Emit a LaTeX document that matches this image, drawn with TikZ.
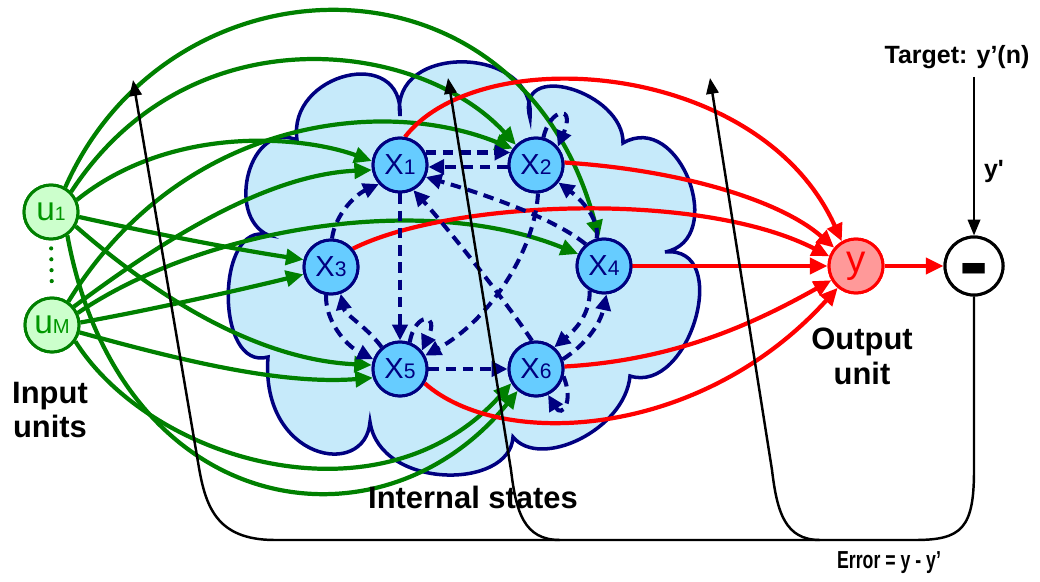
\documentclass[tikz,border=0pt]{standalone}
\usepackage{fontspec}
\setmainfont{Liberation Sans}
\newfontfamily\plainsans{Liberation Sans}[Ligatures=TeXOff]
\usetikzlibrary{arrows.meta}
\definecolor{navy}{RGB}{0,0,128}
\definecolor{lgreen}{RGB}{0,128,0}
\definecolor{utext}{RGB}{0,150,0}
\definecolor{ufill}{RGB}{204,255,204}
\definecolor{xfill}{RGB}{102,204,255}
\definecolor{cloudfill}{RGB}{198,234,250}
\definecolor{yfill}{RGB}{255,153,153}
\begin{document}
\begin{tikzpicture}[x={(0.02cm,0)}, y={(0,-0.02cm)},
  inp/.style={circle, draw=lgreen, fill=ufill, line width=1.7pt, minimum size=1.08cm, inner sep=0pt, text=utext, font=\fontsize{19}{20}\selectfont},
  st/.style={circle, draw=navy, fill=xfill, line width=1.7pt, minimum size=1.08cm, inner sep=0pt, text=navy, font=\fontsize{16.5}{18}\selectfont},
  outu/.style={circle, draw=red, fill=yfill, line width=1.7pt, minimum size=1.08cm, inner sep=0pt, text=red, font=\fontsize{22}{24}\selectfont},
  minusnode/.style={circle, draw=black, fill=white, line width=1.7pt, minimum size=1.1cm, inner sep=0pt, font=\fontsize{50}{52}\selectfont\bfseries, text height=28.5pt, text depth=0pt},
  garrow/.style={draw=lgreen, line width=2.4pt, -{Triangle[length=10pt,width=9pt]}},
  rarrow/.style={draw=red, line width=2.4pt, -{Triangle[length=10pt,width=9pt]}},
  darrow/.style={draw=navy, line width=2.3pt, dash pattern=on 6pt off 3.8pt, -{Triangle[length=9pt,width=8.5pt]}},
  barrow/.style={draw=black, line width=1.4pt, -{Triangle[length=9pt,width=7pt]}},
  lbl/.style={font=\fontsize{17.6}{19.8}\selectfont\bfseries, align=center},
  smalllbl/.style={font=\fontsize{14.2}{16}\selectfont\bfseries},
]
\useasboundingbox (0,0) rectangle (1040,581);

% cloud
\draw[navy, fill=cloudfill, line width=2pt]
  (297,140) .. controls (287,73) and (404,44) .. (400,116)
  .. controls (389,42) and (537,45) .. (530,118)
  .. controls (514,58) and (624,92) .. (623,143)
  .. controls (680,110) and (728,240) .. (665,252)
  .. controls (733,245) and (690,395) .. (630,376)
  .. controls (625,430) and (540,470) .. (513,437)
  .. controls (510,490) and (380,490) .. (370,422)
  .. controls (365,480) and (260,460) .. (268,357)
  .. controls (215,372) and (215,220) .. (268,235)
  .. controls (225,215) and (250,120) .. (297,140) -- cycle;

% nodes
\node[inp] (u1) at (51,212) {u{\fontsize{11}{12}\selectfont 1}};
\node[inp] (uM) at (52,325) {u{\fontsize{11.5}{12}\selectfont M}};
\node[st] (x1) at (400,165) {X{\fontsize{12}{13}\selectfont 1}};
\node[st] (x2) at (536,165) {X{\fontsize{12}{13}\selectfont 2}};
\node[st] (x3) at (331,267) {X{\fontsize{12}{13}\selectfont 3}};
\node[st] (x4) at (604,266) {X{\fontsize{12}{13}\selectfont 4}};
\node[st] (x5) at (400,369) {X{\fontsize{12}{13}\selectfont 5}};
\node[st] (x6) at (536,369) {X{\fontsize{12}{13}\selectfont 6}};
\node[outu] (y) at (856,266) {y};
\node[minusnode] (minus) at (974,266) {-};

\coordinate (fb1) at (133,80);
\coordinate (fb2) at (448,78);
\coordinate (fb3) at (710,78);
\coordinate (tgt) at (974,77);

% green input connections
\draw[garrow] (u1.25) .. controls (170,125) and (300,135) .. (x1.172);
\draw[garrow] (u1.45) .. controls (190,10) and (420,40) .. (x2.135);
\draw[garrow] (u1.-10) .. controls (160,235) and (240,250) .. (x3.165);
\draw[garrow] (u1.60) .. controls (170,-50) and (520,-60) .. (x4.100);
\draw[garrow] (u1.-30) .. controls (160,300) and (260,360) .. (x5.172);
\draw[garrow] (u1.-55) .. controls (120,520) and (380,560) .. (x6.230);
\draw[garrow] (uM.40) .. controls (150,250) and (260,175) .. (x1.190);
\draw[garrow] (uM.55) .. controls (180,120) and (380,95) .. (x2.145);
\draw[garrow] (uM.5) .. controls (150,310) and (240,290) .. (x3.195);
\draw[garrow] (uM.25) .. controls (200,230) and (420,190) .. (x4.155);
\draw[garrow] (uM.-15) .. controls (180,360) and (280,385) .. (x5.198);
\draw[garrow] (uM.-35) .. controls (150,460) and (380,530) .. (x6.210);

% dotted between inputs
\draw[lgreen, line width=2.4pt, line cap=round, dash pattern=on 0pt off 6.2pt, shorten <=4.5pt, shorten >=4.5pt] (u1.south) -- (uM.north);

% red output connections
\draw[rarrow] (x1.80) .. controls (480,40) and (760,60) .. (y.120);
\draw[rarrow] (x2.5) .. controls (680,170) and (780,200) .. (y.140);
\draw[rarrow] (x3.40) .. controls (450,200) and (700,190) .. (y.160);
\draw[rarrow] (x4.east) -- (y.west);
\draw[rarrow] (x5.-30) .. controls (500,450) and (700,440) .. (y.-130);
\draw[rarrow] (x6.5) .. controls (680,360) and (760,320) .. (y.-150);
\draw[rarrow] (y.east) -- (minus.west);

% internal dashed connections
\draw[darrow] (x1.26) -- (x2.154);
\draw[darrow] (x2.184) -- (x1.-4);
\draw[darrow] (x1.-90) -- (x5.90);
\draw[darrow] (x3.88) .. controls (335,215) and (355,195) .. (x1.222);
\draw[darrow] (x4.105) .. controls (600,220) and (582,200) .. (x2.-38);
\draw[darrow] (x4.130) .. controls (550,215) and (470,190) .. (x1.-25);
\draw[darrow] (x6.98) .. controls (505,300) and (445,225) .. (x1.-62);
\draw[darrow] (x2.-86) .. controls (535,250) and (490,320) .. (x5.28);
\draw[darrow] (x3.-100) .. controls (325,320) and (345,345) .. (x5.160);
\draw[darrow] (x5.130) .. controls (365,325) and (345,315) .. (x3.-70);
\draw[darrow] (x4.-120) .. controls (590,315) and (575,330) .. (x6.50);
\draw[darrow] (x6.20) .. controls (585,345) and (600,325) .. (x4.-85);
\draw[darrow] (x5.east) -- (x6.west);
\draw[darrow] (x5.70) .. controls (415,312) and (440,312) .. (x5.40);
\draw[darrow] (x2.75) .. controls (550,108) and (576,104) .. (x2.40);
\draw[darrow] (x6.-15) .. controls (574,402) and (562,418) .. (x6.-65);

% feedback (error) lines
\draw[barrow] (minus.south) -- (974,470) .. controls (974,528) and (962,540) .. (915,540)
  -- (275,540) .. controls (215,540) and (205,505) .. (198,462) -- (fb1);
\draw[barrow] (560,540) .. controls (524,540) and (516,512) .. (511,470) -- (fb2);
\draw[barrow] (820,540) .. controls (785,540) and (777,512) .. (772,470) -- (fb3);

% target
\draw[barrow] (tgt) -- (minus.north);

% redraw nodes on top
\node[inp] at (u1) {u{\fontsize{11}{12}\selectfont 1}};
\node[inp] at (uM) {u{\fontsize{11.5}{12}\selectfont M}};
\node[st] at (x1) {X{\fontsize{12}{13}\selectfont 1}};
\node[st] at (x2) {X{\fontsize{12}{13}\selectfont 2}};
\node[st] at (x3) {X{\fontsize{12}{13}\selectfont 3}};
\node[st] at (x4) {X{\fontsize{12}{13}\selectfont 4}};
\node[st] at (x5) {X{\fontsize{12}{13}\selectfont 5}};
\node[st] at (x6) {X{\fontsize{12}{13}\selectfont 6}};
\node[outu] at (y) {y};
\node[minusnode] at (minus) {-};

% labels
\node[lbl] (lblInput) at (50,410) {Input\\units};
\node[lbl] (lblOutput) at (862,356) {Output\\unit};
\node[lbl] (lblInternal) at (473,497) {Internal states};
\node[smalllbl] (lblTarget) at (957,57) {Target: y’(n)};
\node[smalllbl] (lblYp) at (994,172) {\plainsans y'};
\node[font=\fontsize{14}{16}\selectfont\bfseries] (lblError) at (889,563) {\scalebox{0.72}[1]{Error = y - y’}};
\end{tikzpicture}
\end{document}
